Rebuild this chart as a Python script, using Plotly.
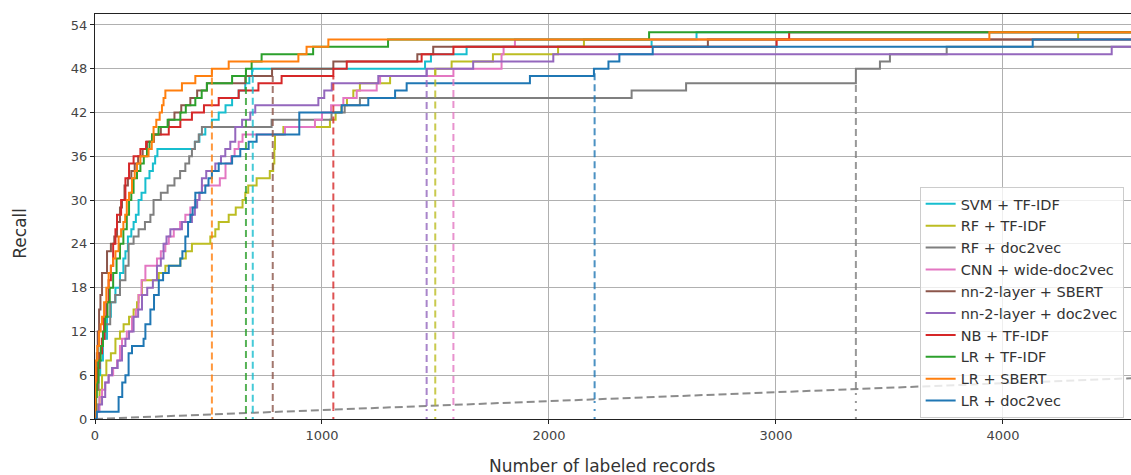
import numpy as np
import plotly.graph_objects as go

# ---------------- data ----------------
names = ["SVM + TF-IDF", "RF + TF-IDF", "RF + doc2vec", "CNN + wide-doc2vec",
         "nn-2-layer + SBERT", "nn-2-layer + doc2vec", "NB + TF-IDF",
         "LR + TF-IDF", "LR + SBERT", "LR + doc2vec"]
colors = ["#17becf", "#bcbd22", "#7f7f7f", "#e377c2", "#8c564b",
          "#9467bd", "#d62728", "#2ca02c", "#ff7f0e", "#1f77b4"]

svm_tfidf_x = [0, 5, 12, 23, 35, 53, 70, 90, 110, 125, 134, 145, 160, 170, 180, 192, 205, 222, 240, 255, 265, 275,
               440, 460, 486, 515, 545, 575, 604, 633, 662, 680, 692, 1454, 1480, 1637, 2452, 2650]
svm_tfidf_y = [0, 4, 6, 8, 11, 14, 16, 18, 20, 22, 23, 25, 26, 27, 28, 30, 31, 33, 34, 35, 36, 37,
               38, 39, 40, 41, 42, 43, 44, 45, 46, 47, 48, 49, 50, 51, 52, 53]

rf_tfidf_x = [0, 8, 20, 31, 50, 70, 90, 110, 126, 150, 170, 185, 192, 207, 281, 310, 339, 376, 400, 427, 508, 530,
              545, 589, 620, 650, 662, 675, 712, 770, 785, 790, 793, 830, 1035, 1060, 1085, 1110, 1138, 1167, 1300,
              1499, 1571, 1753, 2040, 2154, 4331]
rf_tfidf_y = [0, 2, 4, 6, 8, 9, 11, 12, 13, 14, 15, 16, 17, 19, 20, 21, 21, 22, 23, 24, 25, 26,
              27, 28, 29, 30, 31, 32, 33, 34, 35, 37, 39, 40, 41, 42, 43, 44, 45, 46, 47,
              48, 49, 50, 51, 52, 53]

rf_doc2vec_x = [0, 5, 16, 30, 45, 67, 89, 110, 134, 148, 170, 192, 220, 244, 258, 290, 320, 350, 375, 398, 415, 427,
                440, 457, 471, 778, 1042, 1100, 1167, 2364, 2604, 3352, 3458, 3502, 3752]
rf_doc2vec_y = [0, 4, 9, 11, 13, 16, 17, 19, 21, 24, 25, 26, 27, 28, 30, 31, 32, 33, 34, 35, 36, 37,
                38, 39, 40, 41, 42, 43, 44, 45, 46, 48, 49, 50, 51]

cnn_wide_x = [0, 8, 20, 31, 45, 60, 80, 97, 110, 119, 140, 163, 180, 192, 205, 222, 273, 290, 310, 325, 347, 375,
              398, 420, 440, 460, 471, 550, 575, 600, 615, 633, 650, 837, 969, 1000, 1040, 1094, 1153, 1241, 1256,
              1579, 1791, 1800, 1850]
cnn_wide_y = [0, 1, 3, 4, 5, 6, 7, 8, 10, 11, 12, 14, 15, 17, 19, 21, 22, 23, 24, 25, 26, 27,
              28, 29, 30, 31, 32, 33, 35, 36, 37, 38, 39, 40, 41, 42, 43, 44, 45, 46, 47,
              48, 50, 51, 52]

nn_sbert_x = [0, 3, 8, 12, 18, 24, 31, 53, 70, 85, 97, 110, 119, 130, 145, 160, 175, 190, 210, 229, 260, 290,
              325, 350, 380, 420, 450, 493, 662, 780, 1050, 1420, 1490, 2700]
nn_sbert_y = [0, 5, 9, 12, 15, 17, 20, 23, 24, 25, 27, 29, 30, 32, 33, 34, 35, 36, 37, 38, 39, 40,
              41, 42, 43, 44, 45, 46, 47, 48, 49, 50, 51, 52]

nn_doc2vec_x = [0, 5, 15, 31, 45, 60, 75, 100, 119, 134, 150, 170, 190, 207, 230, 255, 273, 290, 302, 315, 332,
                383, 427, 440, 450, 460, 471, 490, 530, 555, 574, 596, 618, 648, 684, 706, 984, 1010, 1043, 1248,
                1461, 1666, 2019, 4479]
nn_doc2vec_y = [0, 1, 2, 3, 5, 6, 7, 8, 10, 11, 12, 14, 15, 17, 18, 19, 21, 22, 24, 25, 26,
                27, 28, 29, 30, 31, 33, 34, 35, 36, 37, 38, 40, 41, 42, 43, 44, 45, 46, 47,
                48, 49, 50, 51]

nb_tfidf_x = [0, 3, 10, 20, 31, 40, 50, 60, 70, 80, 90, 97, 115, 134, 150, 170, 200, 225, 251, 325, 376, 427,
              480, 545, 633, 720, 822, 1050, 1109, 1439, 1579, 3003, 3058]
nb_tfidf_y = [0, 4, 7, 9, 11, 14, 16, 19, 21, 24, 26, 28, 30, 33, 35, 36, 37, 38, 39, 40, 41, 42,
              43, 44, 45, 46, 47, 48, 49, 50, 51, 52, 53]

lr_tfidf_x = [0, 3, 8, 15, 25, 35, 45, 55, 65, 80, 95, 110, 125, 140, 150, 160, 170, 185, 200, 215, 229, 240,
              251, 280, 320, 376, 400, 442, 470, 493, 604, 665, 690, 734, 961, 1291, 2441]
lr_tfidf_y = [0, 3, 5, 8, 10, 12, 14, 16, 18, 20, 22, 24, 26, 28, 30, 31, 33, 34, 35, 36, 37, 38,
              39, 40, 41, 42, 43, 44, 45, 46, 47, 48, 49, 50, 51, 52, 53]

lr_sbert_x = [0, 1, 3, 10, 18, 25, 31, 40, 50, 60, 70, 80, 90, 104, 115, 125, 133, 140, 150, 163, 175, 185,
              200, 236, 250, 258, 270, 285, 295, 302, 310, 383, 442, 515, 589, 896, 932, 1028, 3940]
lr_sbert_y = [0, 5, 8, 10, 12, 13, 14, 16, 18, 20, 21, 22, 23, 25, 26, 27, 28, 30, 31, 33, 34, 35,
              36, 37, 38, 40, 41, 42, 43, 44, 45, 46, 47, 48, 49, 50, 51, 52, 53]

lr_doc2vec_x = [0, 8, 104, 120, 134, 148, 163, 214, 222, 244, 260, 281, 300, 325, 376, 385, 398, 410, 420, 430,
                442, 486, 500, 515, 545, 604, 640, 677, 712, 900, 1087, 1204, 1322, 1373, 1916, 2198, 2262, 2310,
                2457, 4131]
lr_doc2vec_y = [0, 1, 3, 5, 6, 9, 10, 11, 13, 15, 17, 19, 20, 21, 22, 23, 25, 27, 28, 29,
                31, 32, 33, 34, 35, 36, 37, 38, 39, 42, 43, 44, 45, 46, 47, 48, 49, 50,
                51, 52]

series_x = [svm_tfidf_x, rf_tfidf_x, rf_doc2vec_x, cnn_wide_x, nn_sbert_x,
            nn_doc2vec_x, nb_tfidf_x, lr_tfidf_x, lr_sbert_x, lr_doc2vec_x]
series_y = [svm_tfidf_y, rf_tfidf_y, rf_doc2vec_y, cnn_wide_y, nn_sbert_y,
            nn_doc2vec_y, nb_tfidf_y, lr_tfidf_y, lr_sbert_y, lr_doc2vec_y]

# vertical markers (x position and height reached), one per series
marker_x = [695, 1499, 3352, 1579, 783, 1461, 1050, 665, 515, 2201]
marker_top = [48, 48, 46, 47, 47, 48, 47, 48, 48, 48]

# random-screening reference line
random_x = [0, 4600]
random_y = [0, 5.63]

x_end = 4600
x_ticks = [0, 1000, 2000, 3000, 4000]
y_ticks = [0, 6, 12, 18, 24, 30, 36, 42, 48, 54]

# ---------------- figure ----------------
fig = go.Figure()

# random line
fig.add_trace(go.Scatter(x=random_x, y=random_y, mode="lines",
                         line=dict(color="#8c8c8c", width=2, dash="8px,4px"),
                         showlegend=False, hoverinfo="skip"))

for name, col, xs, ys in zip(names, colors, series_x, series_y):
    fig.add_trace(go.Scatter(x=list(xs) + [x_end], y=list(ys) + [ys[-1]], mode="lines",
                             line=dict(color=col, width=2, shape="hv"), name=name))

for col, xm, top in zip(colors, marker_x, marker_top):
    r = float(np.interp(xm, random_x, random_y))
    fig.add_trace(go.Scatter(x=[xm, xm], y=[r, top], mode="lines", opacity=0.8,
                             line=dict(color=col, width=2, dash="7px,4px"),
                             showlegend=False, hoverinfo="skip"))
    fig.add_trace(go.Scatter(x=[xm, xm], y=[0, r], mode="lines", opacity=0.8,
                             line=dict(color=col, width=2, dash="2px,6px"),
                             showlegend=False, hoverinfo="skip"))

axis_common = dict(showgrid=True, gridcolor="#b0b0b0", gridwidth=1, zeroline=False,
                   showline=True, linecolor="#222", linewidth=1, mirror=True,
                   ticks="outside", ticklen=4, tickcolor="#222",
                   tickfont=dict(family="DejaVu Sans", size=13, color="#444"))

fig.update_layout(
    width=1131, height=475, autosize=False,
    margin=dict(l=95, r=0, t=14, b=56),
    plot_bgcolor="white", paper_bgcolor="white",
    font=dict(family="DejaVu Sans", color="#333"),
    xaxis=dict(range=[0, 4564], tickvals=x_ticks, **axis_common),
    yaxis=dict(range=[0, 55.5], tickvals=y_ticks, **axis_common),
    legend=dict(x=0.796, y=0.573, xanchor="left", yanchor="top",
                bgcolor="rgba(255,255,255,0.8)", bordercolor="#cccccc", borderwidth=1,
                font=dict(family="DejaVu Sans", size=14.5, color="#333"),
                itemwidth=30, tracegroupgap=0),
    annotations=[
        dict(text="Number of labeled records", xref="paper", yref="paper",
             x=0.49, y=-0.116, xanchor="center", yanchor="middle", showarrow=False,
             font=dict(family="DejaVu Sans", size=17, color="#333")),
        dict(text="Recall", xref="paper", yref="paper", textangle=-90,
             x=-0.0724, y=0.46, xanchor="center", yanchor="middle", showarrow=False,
             font=dict(family="DejaVu Sans", size=17, color="#333")),
    ],
)

fig.write_html("out.html")
